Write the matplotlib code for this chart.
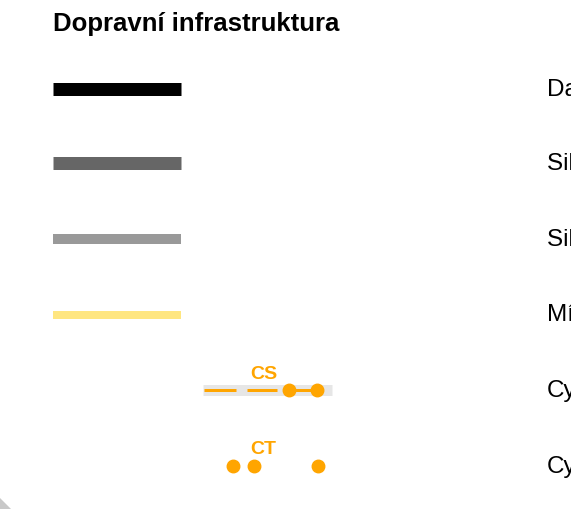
import matplotlib.pyplot as plt
import matplotlib.patches as mpatches

plt.rcParams['font.family'] = ['Liberation Sans', 'DejaVu Sans']

title = "Dopravní infrastruktura"
labels = ["Dalnice", "Silnice I. třídy", "Silnice II. a III. třídy",
          "Místní komunikace", "Cyklostezka", "Cyklotrasa"]
line_colors = ["#000000", "#666666", "#999999", "#ffe680"]
line_widths = [13, 13, 10, 8]          # px
row_y = [89.5, 164, 240, 315.5, 391, 467]

orange = "#ffa500"
cs_dashes = [(204, 236), (247, 277)]
cs_dots = [289, 317]
ct_dots = [233, 254, 318]

W, H = 571, 510
fig = plt.figure(figsize=(W / 100, H / 100), dpi=100)
ax = fig.add_axes([0, 0, 1, 1])
ax.set_xlim(0, W)
ax.set_ylim(H, 0)
ax.axis("off")
px = 72 / 100  # points per pixel

ax.text(53, 31, title, fontsize=18.5, fontweight="bold", color="#000000",
        ha="left", va="baseline")

# plain line symbols
for y, c, lw in zip(row_y[:4], line_colors, line_widths):
    ax.plot([53, 181], [y, y], color=c, lw=lw * px, solid_capstyle="butt")

# cyklostezka symbol
y = row_y[4]
ax.plot([203, 332], [y, y], color="#e6e6e6", lw=11 * px, solid_capstyle="butt")
for x0, x1 in cs_dashes:
    ax.plot([x0, x1], [y, y], color=orange, lw=3 * px, solid_capstyle="butt")
ax.plot(cs_dots, [y, y], color=orange, lw=3 * px, marker="o", ms=12.5 * px,
        mec=orange, mfc=orange)
ax.text(264, y - 16, "CS", fontsize=14, fontweight="bold", color=orange,
        ha="center", va="center")

# cyklotrasa symbol
y = row_y[5]
ax.plot(ct_dots, [y] * len(ct_dots), ls="none", marker="o", ms=12.5 * px,
        mec=orange, mfc=orange)
ax.text(263, y - 17, "CT", fontsize=14, fontweight="bold", color=orange,
        ha="center", va="center")

for y, lab in zip(row_y, labels):
    ax.text(547, y, lab, fontsize=17.5, color="#000000", ha="left", va="center")

# grey corner at bottom left
ax.add_patch(mpatches.Polygon([[0, 499], [11, H], [0, H]], closed=True,
                              facecolor="#c8c8c8", edgecolor="none"))

fig.savefig("out.png", dpi=100)
